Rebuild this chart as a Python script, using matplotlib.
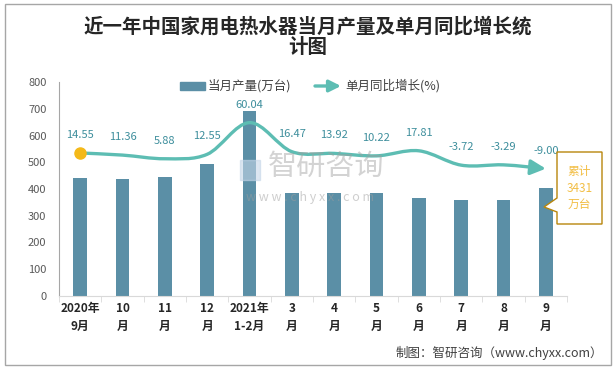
import numpy as np
import matplotlib
matplotlib.use("Agg")
import matplotlib.pyplot as plt
from matplotlib.path import Path
from matplotlib.patches import FancyArrowPatch, Rectangle, Polygon

plt.rcParams['font.family'] = ['Noto Sans CJK SC', 'DejaVu Sans']

# 数据
months = ["2020年\n9月", "10\n月", "11\n月", "12\n月", "2021年\n1-2月", "3\n月",
          "4\n月", "5\n月", "6\n月", "7\n月", "8\n月", "9\n月"]
output = [441, 437, 445, 493, 692, 385, 385, 385, 366, 359, 359, 404]
growth = [14.55, 11.36, 5.88, 12.55, 60.04, 16.47, 13.92, 10.22, 17.81, -3.72, -3.29, -9.00]
total_2021 = "3431"

BAR_COLOR = "#5B8FA6"
LINE_COLOR = "#5DBDB3"
LABEL_COLOR = "#3D8E9C"

W, H = 616, 368


def fx(px):
    return px / W


def fy(py):
    return 1 - py / H


fig = plt.figure(figsize=(W / 100, H / 100), dpi=100)
fig.patch.set_facecolor("white")

# 外框
fig.patches.append(Rectangle((fx(5), fy(365)), fx(606), 361 / H, transform=fig.transFigure,
                             fill=False, edgecolor="#A6A6A6", lw=1.0))

ax = fig.add_axes([fx(59), fy(296), fx(508), 214 / H])
x = np.arange(len(months))
ax.bar(x, output, width=0.33, color=BAR_COLOR, zorder=2)
ax.set_xlim(-0.5, len(months) - 0.5)
ax.set_ylim(0, 800)
ax.set_yticks(range(0, 801, 100))
ax.tick_params(axis="y", length=0, labelsize=8, labelcolor="#595959", pad=9)
ax.set_xticks(x)
ax.set_xticklabels(months, fontsize=8.5, fontweight="bold", color="#262626", linespacing=1.55)
ax.tick_params(axis="x", which="major", length=0, pad=4)
ax.set_xticks(np.arange(-0.5, len(months)), minor=True)
ax.tick_params(axis="x", which="minor", length=4, color="#D9D9D9")
for s in ["top", "right"]:
    ax.spines[s].set_visible(False)
ax.spines["left"].set_color("#A6A6A6")
ax.spines["bottom"].set_color("#D9D9D9")

# 同比增长曲线（次坐标轴，隐藏）
ax2 = ax.twinx()
ax2.set_ylim(-200, 121)
ax2.axis("off")

pts = np.column_stack([x, growth]).astype(float)
n = len(pts)
verts = [tuple(pts[0])]
codes = [Path.MOVETO]
for i in range(n - 1):
    p0 = pts[max(i - 1, 0)]
    p1 = pts[i]
    p2 = pts[i + 1]
    p3 = pts[min(i + 2, n - 1)]
    c1 = p1 + (p2 - p0) / 6
    c2 = p2 - (p3 - p1) / 6
    verts += [tuple(c1), tuple(c2), tuple(p2)]
    codes += [Path.CURVE4] * 3

arrow = FancyArrowPatch(path=Path(verts, codes), arrowstyle="-|>,head_length=0.5,head_width=0.25",
                        mutation_scale=18, color=LINE_COLOR, lw=2.4, shrinkA=0, shrinkB=0,
                        transform=ax2.transData, zorder=4)
ax2.add_patch(arrow)
ax2.plot(x[0], growth[0], "o", color="#F4B919", ms=8, zorder=5)

for xi, g in zip(x, growth):
    ax2.annotate(f"{g:.2f}", (xi, g), xytext=(0, 13), textcoords="offset points",
                 ha="center", va="center", fontsize=8, color=LABEL_COLOR, zorder=6)

# 标题
fig.text(0.5, fy(37), "近一年中国家用电热水器当月产量及单月同比增长统\n计图", ha="center", va="center",
         fontsize=14, fontweight="bold", color="#262626", linespacing=1.1)

# 图例
fig.patches.append(Rectangle((fx(180), fy(90)), fx(25), 8 / H, transform=fig.transFigure,
                             color=BAR_COLOR))
fig.text(fx(208), fy(86), "当月产量(万台)", fontsize=9, color="#404040", va="center")
fig.patches.append(FancyArrowPatch((fx(315), fy(86)), (fx(341), fy(86)), transform=fig.transFigure,
                                   arrowstyle="-|>,head_length=0.5,head_width=0.25", mutation_scale=14,
                                   color=LINE_COLOR, lw=2.4, shrinkA=0, shrinkB=0))
fig.text(fx(345), fy(86), "单月同比增长(%)", fontsize=9, color="#404040", va="center")

# 水印
fig.text(fx(326), fy(167), "智研咨询", fontsize=21, color="#9E9E9E", alpha=0.45,
         ha="center", va="center", zorder=10)
fig.text(fx(310), fy(197), "w w w . c h y x x . c o m", fontsize=9, color="#9E9E9E", alpha=0.5,
         ha="center", va="center", zorder=10)
fig.patches.append(Rectangle((fx(240), fy(180)), fx(20), 20 / H, transform=fig.transFigure,
                             color="#C5D6E8", alpha=0.6, zorder=10))

# 累计标注框
box = [(557, 152), (602, 152), (602, 224), (557, 224), (557, 212), (544, 207), (557, 198)]
fig.patches.append(Polygon([(fx(a), fy(b)) for a, b in box], closed=True, transform=fig.transFigure,
                           facecolor="white", edgecolor="#B8860B", lw=1.0, zorder=8))
fig.text(fx(579.5), fy(188), "累计\n" + total_2021 + "\n万台", ha="center", va="center",
         fontsize=8.5, color="#F2BE45", linespacing=1.35, zorder=9)

# 来源
fig.text(fx(603), fy(353), "制图：智研咨询（www.chyxx.com）", ha="right", va="center",
         fontsize=9, color="#404040")

fig.savefig("out.png", dpi=100)
